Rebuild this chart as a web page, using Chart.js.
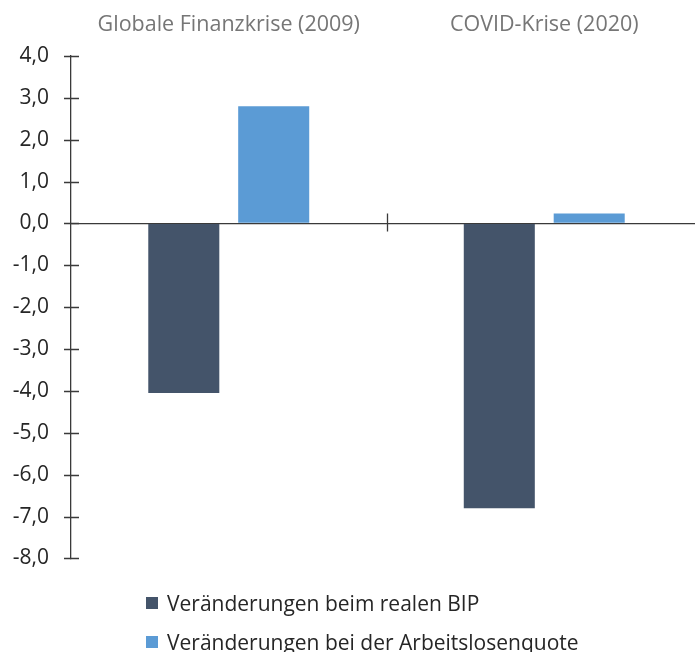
<!DOCTYPE html>
<html>
<head>
<meta charset="utf-8">
<script src="https://cdn.jsdelivr.net/npm/chart.js@4.4.1/dist/chart.umd.min.js"></script>
<style>
  html, body { margin: 0; padding: 0; background: #fff; }
  #wrap { position: relative; width: 695px; height: 652px; overflow: hidden; }
  #bar-chart { position: absolute; left: 0; top: 0; }
  #legend { position: absolute; left: 146px; top: 0; font-family: 'Open Sans', sans-serif; font-size: 21px; color: #262626; }
  #legend div { position: absolute; left: 0; white-space: nowrap; display: flex; align-items: center; height: 30px; }
  #legend span.sq { display: inline-block; width: 12px; height: 12px; margin-right: 9px; }
</style>
</head>
<body>
<div id="wrap">
  <canvas id="bar-chart" width="702" height="593"></canvas>
  <div id="legend"></div>
</div>
<script>
// data
var categories = ["Globale Finanzkrise (2009)", "COVID-Krise (2020)"];
var seriesNames = ["Veränderungen beim realen BIP", "Veränderungen bei der Arbeitslosenquote"];
var bipValues = [-4.05, -6.8];
var alqValues = [2.8, 0.24];
var yTicks = [-8, -7, -6, -5, -4, -3, -2, -1, 0, 1, 2, 3, 4];
var colors = ["#44546a", "#5b9bd5"];

Chart.defaults.font.family = "'Open Sans', sans-serif";

// crossing tick marks on y axis + separator tick on zero line
var axisMarks = {
	id: 'axisMarks',
	afterDraw: function(chart) {
		var ctx = chart.ctx, y = chart.scales.y, x = chart.scales.x;
		var left = Math.round(chart.chartArea.left);
		ctx.save();
		ctx.strokeStyle = '#3a3a3a';
		ctx.lineWidth = 1.3;
		ctx.beginPath();
		yTicks.forEach(function(v) {
			var py = Math.round(y.getPixelForValue(v)) + 0.5;
			ctx.moveTo(left - 7, py);
			ctx.lineTo(left + 8, py);
		});
		var zy = y.getPixelForValue(0);
		for (var i = 1; i < categories.length; i++) {
			var px = Math.round((x.getPixelForValue(i - 1) + x.getPixelForValue(i)) / 2) + 0.5;
			ctx.moveTo(px, zy - 10);
			ctx.lineTo(px, zy + 8);
		}
		ctx.stroke();
		ctx.restore();
	}
};

new Chart(document.getElementById("bar-chart"), {
	type: 'bar',
	data: {
		labels: categories,
		datasets: [
			{ label: seriesNames[0], backgroundColor: colors[0], data: bipValues },
			{ label: seriesNames[1], backgroundColor: colors[1], data: alqValues }
		]
	},
	options: {
		responsive: false,
		animation: false,
		categoryPercentage: 0.57,
		barPercentage: 0.79,
		layout: { padding: { left: 0, right: 0, top: 0, bottom: 9 } },
		plugins: {
			legend: { display: false },
			tooltip: { enabled: false }
		},
		scales: {
			x: {
				position: 'top',
				grid: { display: false },
				border: { display: false },
				ticks: { color: '#767676', font: { size: 21.5 }, padding: 10, maxRotation: 0 },
				afterFit: function(s) { s.height = 56; }
			},
			y: {
				min: yTicks[0],
				max: yTicks[yTicks.length - 1],
				ticks: {
					stepSize: 1,
					color: '#262626',
					font: { size: 21 },
					padding: 22,
					callback: function(v) { return v.toFixed(1).replace('.', ','); }
				},
				grid: {
					drawTicks: false,
					lineWidth: 1.3,
					color: function(c) { return c.tick && c.tick.value === 0 ? '#3a3a3a' : 'rgba(0,0,0,0)'; }
				},
				border: { display: true, color: '#3a3a3a', width: 1.3 },
				afterFit: function(s) { s.width = 71; }
			}
		}
	},
	plugins: [axisMarks]
});

// legend
var lg = document.getElementById('legend');
var rowTops = [588, 627];
seriesNames.forEach(function(name, i) {
	var row = document.createElement('div');
	row.style.top = rowTops[i] + 'px';
	var sq = document.createElement('span');
	sq.className = 'sq';
	sq.style.background = colors[i];
	row.appendChild(sq);
	row.appendChild(document.createTextNode(name));
	lg.appendChild(row);
});
</script>
</body>
</html>
